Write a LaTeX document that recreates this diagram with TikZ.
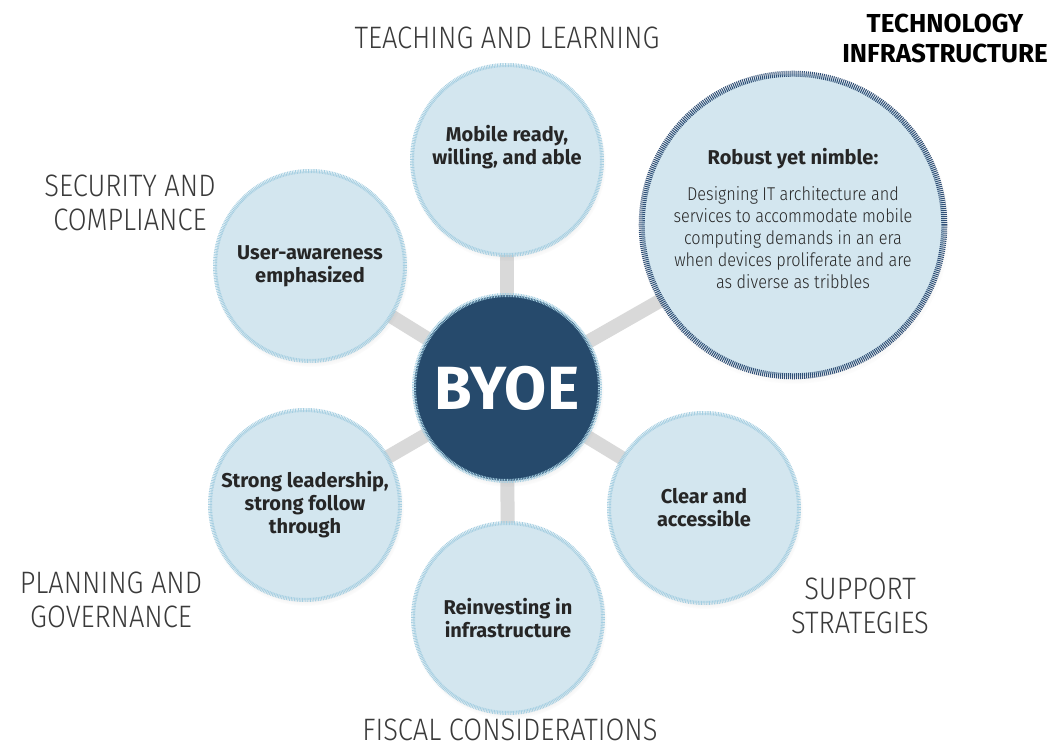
\documentclass[tikz,border=0pt]{standalone}
\usepackage{fontspec}
\setmainfont{Fira Sans}
\newfontfamily\lightfont[FakeStretch=0.88]{Fira Sans Light}
\usetikzlibrary{backgrounds,shadows}

\definecolor{bubblefill}{HTML}{D3E6EF}
\definecolor{bubbletick}{HTML}{A4CEE1}
\definecolor{navyfill}{HTML}{264A6C}
\definecolor{navytick}{HTML}{2F4F76}
\definecolor{spokegray}{HTML}{D9D9D9}
\definecolor{labelgray}{HTML}{3A3A3A}

\begin{document}
\begin{tikzpicture}[x=1pt,y=-1pt,
    bubble/.style={circle,fill=bubblefill,draw=bubbletick,line width=4pt,
        dash pattern=on 0.8pt off 0.8pt,minimum size=190pt,inner sep=0pt,
        align=center,text=black!85,font=\bfseries\fontsize{20}{23}\selectfont,
        circular drop shadow={shadow xshift=1pt,shadow yshift=-3pt,shadow scale=1.03,opacity=0.25}},
    hub/.style={bubble,fill=navyfill,minimum size=186pt,text=white,
        font=\bfseries\fontsize{61}{61}\selectfont},
    bigbubble/.style={bubble,draw=navytick,line width=6pt,dash pattern=on 1pt off 1pt,minimum size=276pt},
    spoke/.style={spokegray,line width=14pt},
    area/.style={align=center,text=labelgray,font=\lightfont\fontsize{31}{34}\selectfont},
    areabold/.style={align=center,text=black,font=\bfseries\fontsize{26}{30}\selectfont}]
  \useasboundingbox (0,0) rectangle (1055,751);

  % centre and the six fields
  \node[hub] (byoe) at (507,388) {BYOE};
  \node[bubble] (teach) at (507,160) {Mobile ready,\\willing, and able\\[8pt]};
  \node[bubble] (secure) at (310,266) {User-awareness\\emphasized};
  \node[bubble] (plan) at (305,505) {Strong leadership,\\strong follow\\through};
  \node[bubble] (fiscal) at (508,618) {Reinvesting in\\infrastructure};
  \node[bubble] (support) at (704,508) {Clear and\\accessible};
  \node[bigbubble] (tech) at (793,225) {%
    \parbox{260pt}{\centering{\bfseries\fontsize{20}{23}\selectfont Robust yet nimble:\par}
    \vspace{14pt}
    {\lightfont\mdseries\fontsize{18.5}{22}\selectfont Designing IT architecture and\\
    services to accommodate mobile\\computing demands in an era\\
    when devices proliferate and are\\as diverse as tribbles\par}
    \vspace{14pt}}};

  % spokes behind the circles
  \begin{scope}[on background layer]
    \fill[white] (0,0) rectangle (1055,751);
    \foreach \f in {teach,secure,plan,fiscal,support,tech}
      \draw[spoke] (byoe.center) -- (\f.center);
  \end{scope}

  % field names
  \node[area] (teachlbl) at (507,38) {TEACHING AND LEARNING};
  \node[area] (securelbl) at (130,203) {SECURITY AND\\COMPLIANCE};
  \node[area] (planlbl) at (111,600) {PLANNING AND\\GOVERNANCE};
  \node[area] (supportlbl) at (860,606) {SUPPORT\\STRATEGIES};
  \node[area] (fiscallbl) at (510,730) {FISCAL CONSIDERATIONS};
  \node[areabold] (techlbl) at (945,38) {TECHNOLOGY\\INFRASTRUCTURE};
\end{tikzpicture}
\end{document}
